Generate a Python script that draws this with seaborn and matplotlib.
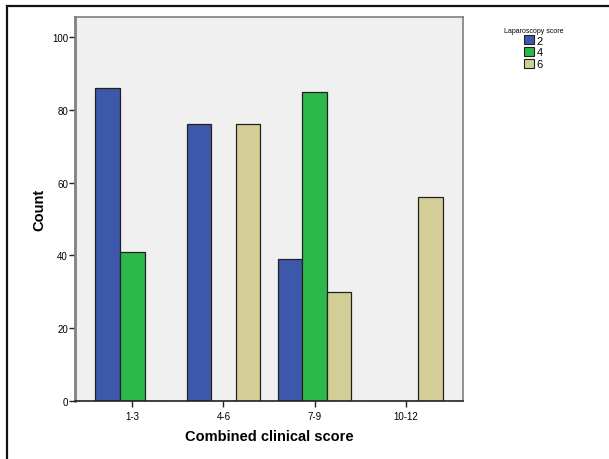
import matplotlib

matplotlib.use("Agg")
import matplotlib.pyplot as plt
import pandas as pd
import seaborn as sns
from matplotlib.patches import Rectangle

# Counts
clinical_scores = ["1-3", "4-6", "7-9", "10-12"]
lap_scores = ["2", "4", "6"]
counts_2 = [86, 76, 39, 0]
counts_4 = [41, 0, 85, 0]
counts_6 = [0, 76, 30, 56]
bar_colors = ["#3d58ab", "#2db84c", "#d3ce96"]

rows = []
for score, vals in zip(lap_scores, [counts_2, counts_4, counts_6]):
    for cat, v in zip(clinical_scores, vals):
        rows.append({"Combined clinical score": cat, "Laparoscopy score": score, "Count": v})
df = pd.DataFrame(rows)

sns.set_theme(style="white", rc={"text.color": "black", "axes.labelcolor": "black",
                                 "xtick.color": "black", "ytick.color": "black"})
plt.rcParams["font.family"] = ["Liberation Sans", "DejaVu Sans"]

fig = plt.figure(figsize=(6.09, 4.6), dpi=100)
ax = fig.add_axes([75 / 609, 1 - 402 / 460, (463 - 75) / 609, (402 - 18) / 460])
ax.set_facecolor("#f0f0f0")

sns.barplot(
    data=df,
    x="Combined clinical score",
    y="Count",
    hue="Laparoscopy score",
    order=clinical_scores,
    hue_order=lap_scores,
    palette=bar_colors,
    saturation=1,
    width=0.81,
    edgecolor="#222222",
    linewidth=0.9,
    ax=ax,
)

ax.set_xlim(-0.63, 3.63)
ax.set_ylim(0, 105.5)
ax.set_yticks([0, 20, 40, 60, 80, 100])
ax.tick_params(axis="both", direction="out", length=4, width=1, labelsize=7, color="#222222", pad=1)
ax.tick_params(axis="y", left=True)
ax.tick_params(axis="x", bottom=True, pad=3)
ax.set_xlabel("Combined clinical score", fontsize=10.5, fontweight="bold", labelpad=6)
ax.set_ylabel("Count", fontsize=10.5, fontweight="bold", labelpad=4)

for side in ["top", "right", "left"]:
    ax.spines[side].set_color("#808080")
    ax.spines[side].set_linewidth(1.2)
ax.spines["left"].set_linewidth(2)
ax.spines["bottom"].set_color("#222222")
ax.spines["bottom"].set_linewidth(1.2)

leg = ax.legend(
    title="Laparoscopy score",
    loc="upper left",
    bbox_to_anchor=(496 / 609, 1 - 20 / 460),
    bbox_transform=fig.transFigure,
    frameon=False,
    fontsize=8,
    title_fontsize=5,
    handlelength=0.9,
    handleheight=0.9,
    handletextpad=0.25,
    labelspacing=0.12,
    borderpad=0.2,
)
for h in leg.legend_handles:
    h.set_edgecolor("#222222")
    h.set_linewidth(0.8)

# outer frame of the output window
fig.patches.append(
    Rectangle((7 / 609, -0.1), 1.2, 1 - 7 / 460 + 0.1, transform=fig.transFigure,
              fill=False, edgecolor="#111111", linewidth=1.6)
)

fig.savefig("out.png", dpi=100)
